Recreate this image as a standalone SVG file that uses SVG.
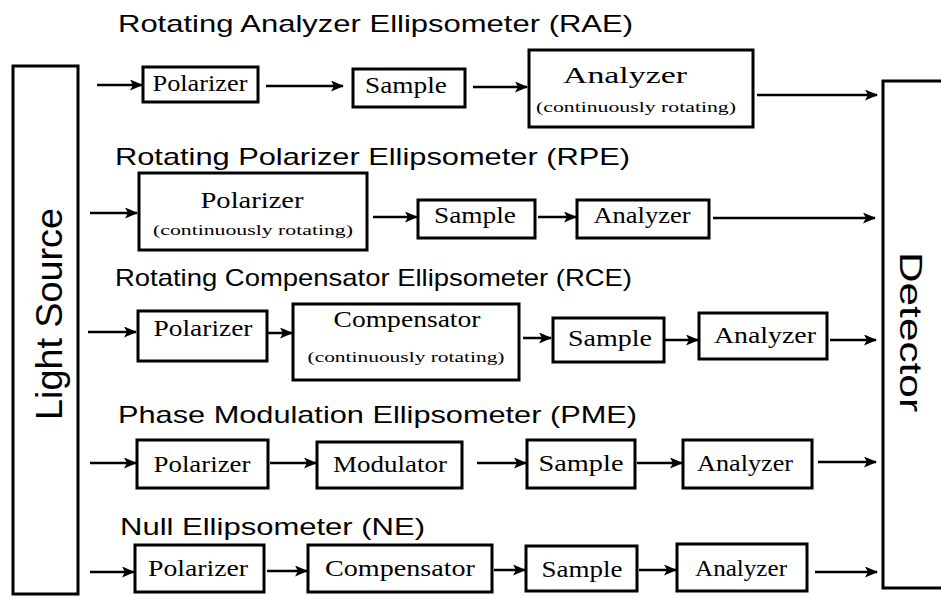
<svg xmlns="http://www.w3.org/2000/svg" width="941" height="597" viewBox="0 0 941 597">
  <defs>
    <marker id="head" viewBox="0 0 13 11" refX="12" refY="5.5" markerWidth="13" markerHeight="11" markerUnits="userSpaceOnUse" orient="auto">
      <path d="M0,0 L13,5.5 L0,11 L3,5.5 Z" fill="#000"/>
    </marker>
    <style>
      .frame { fill: #fff; stroke: #000; stroke-width: 3; }
      .side { fill: none; stroke: #000; stroke-width: 3; }
      .title { font-family: "Liberation Sans", Arial, sans-serif; font-size: 24px; fill: #000; }
      .big { font-family: "Liberation Sans", Arial, sans-serif; fill: #000; }
      .lbl { font-family: "Liberation Serif", "Times New Roman", serif; font-size: 23px; fill: #000; text-anchor: middle; }
      .sub { font-family: "Liberation Serif", "Times New Roman", serif; font-size: 15px; fill: #000; text-anchor: middle; }
      .wire { stroke: #000; stroke-width: 2.5; fill: none; marker-end: url(#head); }
    </style>
  </defs>
  <rect width="941" height="597" fill="#fff"/>

  <!-- source and detector -->
  <g id="light-source">
    <rect class="side" x="13" y="66" width="65" height="528"/>
    <text class="big" font-size="37" text-anchor="middle" transform="translate(62,314) rotate(-90)" textLength="212" lengthAdjust="spacingAndGlyphs">Light Source</text>
  </g>
  <g id="detector">
    <path class="side" d="M942,81 H883 V588 H942"/>
    <text class="big" font-size="32" text-anchor="middle" transform="translate(900,332) rotate(90)" textLength="160" lengthAdjust="spacingAndGlyphs">Detector</text>
  </g>

  <!-- section titles -->
  <g id="titles">
    <text class="title" x="118" y="32" textLength="515" lengthAdjust="spacingAndGlyphs">Rotating Analyzer Ellipsometer (RAE)</text>
    <text class="title" x="115" y="165" textLength="515" lengthAdjust="spacingAndGlyphs">Rotating Polarizer Ellipsometer (RPE)</text>
    <text class="title" x="115" y="286" textLength="517" lengthAdjust="spacingAndGlyphs">Rotating Compensator Ellipsometer (RCE)</text>
    <text class="title" x="118" y="423" textLength="519" lengthAdjust="spacingAndGlyphs">Phase Modulation Ellipsometer (PME)</text>
    <text class="title" x="120" y="535" textLength="305" lengthAdjust="spacingAndGlyphs">Null Ellipsometer (NE)</text>
  </g>

  <!-- RAE row -->
  <g id="rae-polarizer">
    <rect class="frame" x="143" y="67" width="115" height="35"/>
    <text class="lbl" x="200" y="91" textLength="95" lengthAdjust="spacingAndGlyphs">Polarizer</text>
  </g>
  <g id="rae-sample">
    <rect class="frame" x="353" y="69" width="112" height="38"/>
    <text class="lbl" x="406" y="93" textLength="82" lengthAdjust="spacingAndGlyphs">Sample</text>
  </g>
  <g id="rae-analyzer">
    <rect class="frame" x="529" y="50" width="224" height="77"/>
    <text class="lbl" x="625" y="83" textLength="124" lengthAdjust="spacingAndGlyphs">Analyzer</text>
    <text class="sub" x="636" y="112" textLength="200" lengthAdjust="spacingAndGlyphs">(continuously rotating)</text>
  </g>

  <!-- RPE row -->
  <g id="rpe-polarizer">
    <rect class="frame" x="139" y="173" width="228" height="77"/>
    <text class="lbl" x="252" y="208" textLength="103" lengthAdjust="spacingAndGlyphs">Polarizer</text>
    <text class="sub" x="253" y="235" textLength="200" lengthAdjust="spacingAndGlyphs">(continuously rotating)</text>
  </g>
  <g id="rpe-sample">
    <rect class="frame" x="418" y="200" width="117" height="38"/>
    <text class="lbl" x="475" y="223" textLength="82" lengthAdjust="spacingAndGlyphs">Sample</text>
  </g>
  <g id="rpe-analyzer">
    <rect class="frame" x="577" y="200" width="132" height="38"/>
    <text class="lbl" x="642" y="223" textLength="97" lengthAdjust="spacingAndGlyphs">Analyzer</text>
  </g>

  <!-- RCE row -->
  <g id="rce-polarizer">
    <rect class="frame" x="138" y="311" width="129" height="50"/>
    <text class="lbl" x="203" y="336" textLength="99" lengthAdjust="spacingAndGlyphs">Polarizer</text>
  </g>
  <g id="rce-compensator">
    <rect class="frame" x="293" y="304" width="226" height="76"/>
    <text class="lbl" x="407" y="327" textLength="147" lengthAdjust="spacingAndGlyphs">Compensator</text>
    <text class="sub" x="406" y="362" textLength="197" lengthAdjust="spacingAndGlyphs">(continuously rotating)</text>
  </g>
  <g id="rce-sample">
    <rect class="frame" x="553" y="318" width="111" height="44"/>
    <text class="lbl" x="610" y="346" textLength="84" lengthAdjust="spacingAndGlyphs">Sample</text>
  </g>
  <g id="rce-analyzer">
    <rect class="frame" x="699" y="313" width="128" height="46"/>
    <text class="lbl" x="765" y="343" textLength="102" lengthAdjust="spacingAndGlyphs">Analyzer</text>
  </g>

  <!-- PME row -->
  <g id="pme-polarizer">
    <rect class="frame" x="137" y="440" width="131" height="48"/>
    <text class="lbl" x="202" y="472" textLength="97" lengthAdjust="spacingAndGlyphs">Polarizer</text>
  </g>
  <g id="pme-modulator">
    <rect class="frame" x="317" y="442" width="145" height="46"/>
    <text class="lbl" x="390" y="472" textLength="114" lengthAdjust="spacingAndGlyphs">Modulator</text>
  </g>
  <g id="pme-sample">
    <rect class="frame" x="527" y="440" width="108" height="48"/>
    <text class="lbl" x="581" y="471" textLength="85" lengthAdjust="spacingAndGlyphs">Sample</text>
  </g>
  <g id="pme-analyzer">
    <rect class="frame" x="683" y="440" width="129" height="48"/>
    <text class="lbl" x="745" y="471" textLength="96" lengthAdjust="spacingAndGlyphs">Analyzer</text>
  </g>

  <!-- NE row -->
  <g id="ne-polarizer">
    <rect class="frame" x="135" y="545" width="129" height="47"/>
    <text class="lbl" x="198" y="576" textLength="100" lengthAdjust="spacingAndGlyphs">Polarizer</text>
  </g>
  <g id="ne-compensator">
    <rect class="frame" x="308" y="545" width="184" height="47"/>
    <text class="lbl" x="400" y="576" textLength="150" lengthAdjust="spacingAndGlyphs">Compensator</text>
  </g>
  <g id="ne-sample">
    <rect class="frame" x="526" y="546" width="111" height="45"/>
    <text class="lbl" x="582" y="577" textLength="81" lengthAdjust="spacingAndGlyphs">Sample</text>
  </g>
  <g id="ne-analyzer">
    <rect class="frame" x="677" y="544" width="130" height="47"/>
    <text class="lbl" x="741" y="576" textLength="92" lengthAdjust="spacingAndGlyphs">Analyzer</text>
  </g>

  <!-- beam path connectors -->
  <g id="connectors">
    <line class="wire" x1="97" y1="85" x2="142" y2="85"/>
    <line class="wire" x1="266" y1="86" x2="343" y2="86"/>
    <line class="wire" x1="473" y1="87" x2="527" y2="87"/>
    <line class="wire" x1="757" y1="95" x2="877" y2="95"/>

    <line class="wire" x1="90" y1="213" x2="137" y2="213"/>
    <line class="wire" x1="373" y1="217" x2="417" y2="217"/>
    <line class="wire" x1="538" y1="217" x2="576" y2="217"/>
    <line class="wire" x1="713" y1="218" x2="875" y2="218"/>

    <line class="wire" x1="88" y1="332" x2="136" y2="332"/>
    <line class="wire" x1="268" y1="333" x2="292" y2="333"/>
    <line class="wire" x1="523" y1="338" x2="551" y2="338"/>
    <line class="wire" x1="665" y1="340" x2="698" y2="340"/>
    <line class="wire" x1="830" y1="340" x2="876" y2="340"/>

    <line class="wire" x1="90" y1="463" x2="136" y2="463"/>
    <line class="wire" x1="270" y1="463" x2="316" y2="463"/>
    <line class="wire" x1="477" y1="463" x2="526" y2="463"/>
    <line class="wire" x1="637" y1="463" x2="682" y2="463"/>
    <line class="wire" x1="818" y1="462" x2="876" y2="462"/>

    <line class="wire" x1="90" y1="572" x2="134" y2="572"/>
    <line class="wire" x1="267" y1="571" x2="307" y2="571"/>
    <line class="wire" x1="494" y1="570" x2="525" y2="570"/>
    <line class="wire" x1="639" y1="570" x2="676" y2="570"/>
    <line class="wire" x1="815" y1="572" x2="877" y2="572"/>
  </g>
</svg>
